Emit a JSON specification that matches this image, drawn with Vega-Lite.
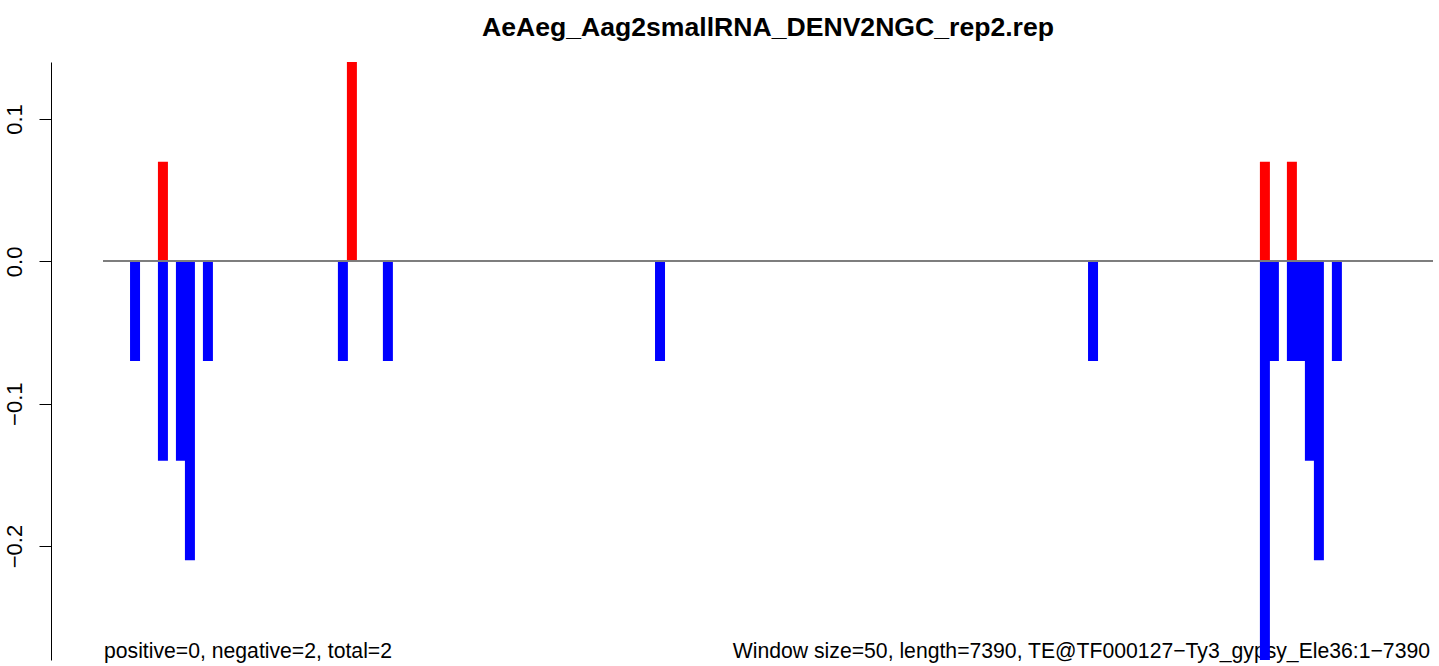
{
  "$schema": "https://vega.github.io/schema/vega-lite/v6.json",
  "width": 1330,
  "height": 598,
  "autosize": "none",
  "padding": {"left": 103, "top": 62, "right": 6, "bottom": 6},
  "background": "white",
  "config": {"view": {"stroke": null}, "font": "Liberation Sans", "bar": {"continuousBandSize": 10}},
  "title": {
    "text": "AeAeg_Aag2smallRNA_DENV2NGC_rep2.rep",
    "anchor": "middle",
    "font": "Liberation Sans",
    "fontSize": 26.6,
    "fontWeight": "bold",
    "color": "black",
    "offset": 20
  },
  "data": {
    "values": [
      {"pos": 178, "value": -0.07, "strand": "minus"},
      {"pos": 333, "value": -0.14, "strand": "minus"},
      {"pos": 433, "value": -0.14, "strand": "minus"},
      {"pos": 483, "value": -0.21, "strand": "minus"},
      {"pos": 583, "value": -0.07, "strand": "minus"},
      {"pos": 1333, "value": -0.07, "strand": "minus"},
      {"pos": 1583, "value": -0.07, "strand": "minus"},
      {"pos": 3095, "value": -0.07, "strand": "minus"},
      {"pos": 5501, "value": -0.07, "strand": "minus"},
      {"pos": 6456, "value": -0.28, "strand": "minus"},
      {"pos": 6506, "value": -0.07, "strand": "minus"},
      {"pos": 6606, "value": -0.07, "strand": "minus"},
      {"pos": 6656, "value": -0.07, "strand": "minus"},
      {"pos": 6706, "value": -0.14, "strand": "minus"},
      {"pos": 6756, "value": -0.21, "strand": "minus"},
      {"pos": 6856, "value": -0.07, "strand": "minus"},
      {"pos": 333, "value": 0.07, "strand": "plus"},
      {"pos": 1383, "value": 0.14, "strand": "plus"},
      {"pos": 6456, "value": 0.07, "strand": "plus"},
      {"pos": 6606, "value": 0.07, "strand": "plus"}
    ]
  },
  "layer": [
    {
      "data": {"values": [{"label": "positive=0, negative=2, total=2"}]},
      "mark": {"type": "text", "x": 0, "y": "height", "align": "left", "baseline": "alphabetic", "fontSize": 21.2, "font": "Liberation Sans", "color": "black", "dx": 1, "dy": -2},
      "encoding": {"text": {"field": "label"}}
    },
    {
      "data": {"values": [{"label": "Window size=50, length=7390, TE@TF000127\u2212Ty3_gypsy_Ele36:1\u22127390"}]},
      "mark": {"type": "text", "x": "width", "y": "height", "align": "right", "baseline": "alphabetic", "fontSize": 21.2, "font": "Liberation Sans", "color": "black", "dx": -3, "dy": -2},
      "encoding": {"text": {"field": "label"}}
    },
    {
      "mark": {"type": "bar"},
      "encoding": {
        "x": {"field": "pos", "type": "quantitative", "scale": {"domain": [0, 7390], "nice": false, "zero": false, "padding": 0}, "axis": null},
        "y": {
          "field": "value",
          "type": "quantitative",
          "stack": null,
          "scale": {"domain": [-0.28, 0.14], "nice": false, "zero": false, "padding": 0},
          "axis": {
            "values": [-0.2, -0.1, 0, 0.1],
            "format": ".1f",
            "title": null,
            "grid": false,
            "offset": 52,
            "tickSize": 12,
            "tickColor": "black",
            "domainColor": "black",
            "labelColor": "black",
            "labelFont": "Liberation Sans",
            "labelFontSize": 22,
            "labelAngle": 270,
            "labelPadding": 13
          }
        },
        "color": {"field": "strand", "type": "nominal", "scale": {"domain": ["plus", "minus"], "range": ["#FF0000", "#0000FF"]}, "legend": null}
      }
    },
    {
      "mark": {"type": "rule", "color": "#7F7F7F", "strokeWidth": 1},
      "encoding": {"y": {"datum": 0}}
    }
  ]
}
